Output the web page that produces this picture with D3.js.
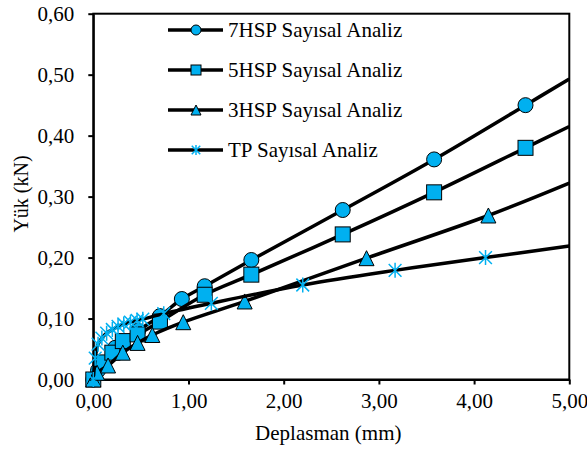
<!DOCTYPE html>
<html>
<head>
<meta charset="utf-8">
<script src="https://cdn.jsdelivr.net/npm/d3@7"></script>
<style>
  body { margin: 0; background: #fff; }
  text { font-family: "Liberation Serif", "Times New Roman", serif; fill: #000; }
</style>
</head>
<body>
<div id="canvas"></div>
<script>
// series values (last point = line end at x = 5, no marker)
const x7 = [0, 0.05, 0.23, 0.47, 0.70, 0.93, 1.17, 1.66, 2.62, 3.58, 4.54, 5.00];
const y7 = [0, 0.015, 0.052, 0.080, 0.104, 0.132, 0.153, 0.196, 0.278, 0.361, 0.450, 0.493];

const x5 = [0, 0.08, 0.20, 0.31, 0.465, 0.70, 1.17, 1.66, 2.62, 3.58, 4.54, 5.00];
const y5 = [0, 0.028, 0.044, 0.063, 0.074, 0.095, 0.139, 0.172, 0.238, 0.307, 0.380, 0.415];

const x3 = [0, 0.04, 0.155, 0.31, 0.465, 0.62, 0.945, 1.59, 2.87, 4.15, 5.00];
const y3 = [0, 0.011, 0.023, 0.044, 0.060, 0.073, 0.094, 0.128, 0.199, 0.269, 0.322];

const xT = [0, 0.02, 0.05, 0.09, 0.14, 0.20, 0.26, 0.32, 0.39, 0.46, 0.52, 0.74, 1.24, 2.20, 3.17, 4.12, 5.00];
const yT = [0, 0.035, 0.058, 0.068, 0.076, 0.082, 0.087, 0.091, 0.094, 0.097, 0.099, 0.108, 0.125, 0.155, 0.179, 0.200, 0.219];

const seriesNames = ["7HSP Sayısal Analiz", "5HSP Sayısal Analiz", "3HSP Sayısal Analiz", "TP Sayısal Analiz"];
const markerTypes = ["circle", "square", "triangle", "star"];
const xTicks = [0, 1, 2, 3, 4, 5];
const yTicks = [0, 0.1, 0.2, 0.3, 0.4, 0.5, 0.6];

const series = [
    { name: seriesNames[0], marker: markerTypes[0], pts: x7.map((x, i) => ({ x: x, y: y7[i] })) },
    { name: seriesNames[1], marker: markerTypes[1], pts: x5.map((x, i) => ({ x: x, y: y5[i] })) },
    { name: seriesNames[2], marker: markerTypes[2], pts: x3.map((x, i) => ({ x: x, y: y3[i] })) },
    { name: seriesNames[3], marker: markerTypes[3], pts: xT.map((x, i) => ({ x: x, y: yT[i] })) }
];

const width = 587;
const height = 453;
const margin = { top: 13.7, left: 93.3, bottom: 73.5, right: 17.7 };
const iwidth = width - margin.left - margin.right;
const iheight = height - margin.top - margin.bottom;
const cyan = "#00b0f0";

const svg = d3.select("#canvas").append("svg")
    .attr("width", width)
    .attr("height", height);

const g = svg.append("g").attr("transform", `translate(${margin.left},${margin.top})`);

const x = d3.scaleLinear().domain([0, 5]).range([0, iwidth]);
const y = d3.scaleLinear().domain([0, 0.6]).range([iheight, 0]);

const loc = d3.formatLocale({ decimal: ",", thousands: ".", grouping: [3], currency: ["", ""] });
const fmt = loc.format(".2f");

// frame (top + right)
g.append("rect")
    .attr("x", 0).attr("y", 0)
    .attr("width", iwidth).attr("height", iheight)
    .attr("fill", "none")
    .attr("stroke", "#000")
    .attr("stroke-width", 2);

const xAxis = g.append("g")
    .attr("transform", `translate(0, ${iheight})`)
    .call(d3.axisBottom(x).tickValues(xTicks).tickFormat(fmt).tickSize(5).tickSizeOuter(0).tickPadding(9));

const yAxis = g.append("g")
    .call(d3.axisLeft(y).tickValues(yTicks).tickFormat(fmt).tickSize(5).tickSizeOuter(0).tickPadding(14));

[xAxis, yAxis].forEach(a => {
    a.select(".domain").attr("stroke", "#000").attr("stroke-width", 2);
    a.selectAll(".tick line").attr("stroke", "#000").attr("stroke-width", 2);
    a.selectAll(".tick text").style("font-size", "21px").attr("fill", "#000");
});
xAxis.selectAll(".tick text").attr("dy", "0.71em");
yAxis.selectAll(".tick text").attr("dy", "0.34em");

svg.append("text")
    .attr("x", margin.left + iwidth / 2 - 3)
    .attr("y", 440)
    .attr("text-anchor", "middle")
    .style("font-size", "21px")
    .text("Deplasman (mm)");

svg.append("text")
    .attr("transform", "translate(28, 194) rotate(-90)")
    .attr("text-anchor", "middle")
    .style("font-size", "20px")
    .text("Yük (kN)");

const line = d3.line()
    .x(d => x(d.x))
    .y(d => y(d.y))
    .curve(d3.curveCatmullRom.alpha(0.5));

function drawMarker(sel, type, size) {
    const r = size / 2;
    if (type === "circle") {
        sel.append("circle").attr("r", r)
            .attr("fill", cyan).attr("stroke", "#000").attr("stroke-width", 1);
    } else if (type === "square") {
        sel.append("rect").attr("x", -r).attr("y", -r).attr("width", size).attr("height", size)
            .attr("fill", cyan).attr("stroke", "#000").attr("stroke-width", 1);
    } else if (type === "triangle") {
        sel.append("path").attr("d", `M0,${-r}L${r},${r}L${-r},${r}Z`)
            .attr("fill", cyan).attr("stroke", "#000").attr("stroke-width", 1);
    } else {
        const a = r * 0.85;
        sel.append("path").attr("d", `M0,${-r}V${r}M${-a},${-a}L${a},${a}M${-a},${a}L${a},${-a}`)
            .attr("fill", "none").attr("stroke", cyan).attr("stroke-width", 1.5);
    }
}

series.forEach(s => {
    const sg = g.append("g");
    sg.append("path")
        .datum(s.pts)
        .attr("d", line)
        .attr("fill", "none")
        .attr("stroke", "#000")
        .attr("stroke-width", 3.5);

    sg.selectAll("g.mk")
        .data(s.pts.filter(d => d.x < 5))
        .enter().append("g")
        .attr("class", "mk")
        .attr("transform", d => `translate(${x(d.x)},${y(d.y)})`)
        .each(function () { drawMarker(d3.select(this), s.marker, 15); });
});

// legend
const legend = svg.append("g");
series.forEach((s, i) => {
    const ly = 30 + i * 40;
    const lg = legend.append("g").attr("transform", `translate(0, ${ly})`);
    lg.append("line")
        .attr("x1", 168).attr("x2", 223)
        .attr("stroke", "#000").attr("stroke-width", 3.5);
    const m = lg.append("g").attr("transform", "translate(196, 0)");
    drawMarker(m, s.marker, 10);
    lg.append("text")
        .attr("x", 228).attr("y", 7)
        .style("font-size", "21px")
        .text(s.name);
});
</script>
</body>
</html>
